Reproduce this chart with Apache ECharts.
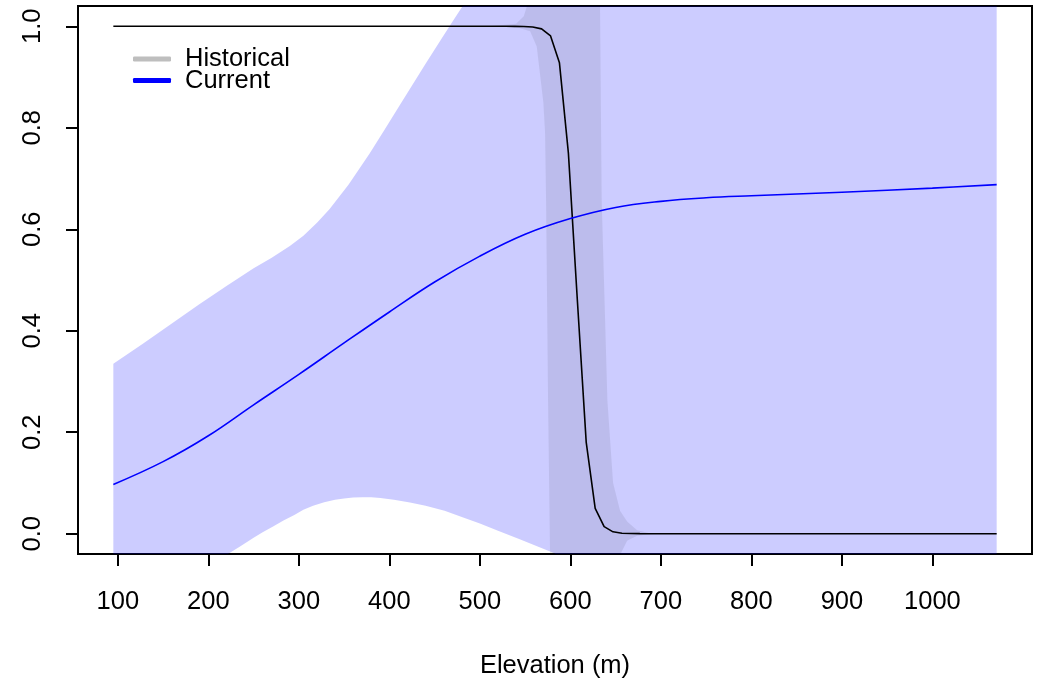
<!DOCTYPE html>
<html><head><meta charset="utf-8">
<script src="https://cdn.jsdelivr.net/npm/echarts@6/dist/echarts.min.js"></script>
<style>html,body{margin:0;padding:0;background:#fff}#c{width:1038px;height:684px}</style>
</head><body><div id="c"></div>
<script>
// ---- tick labels ----
const xTicks = [100, 200, 300, 400, 500, 600, 700, 800, 900, 1000];
const yTicks = [0, 0.2, 0.4, 0.6, 0.8, 1.0];

// ---- Historical (black mean line) ----
const histMeanX = [95, 528.8, 538.7, 548.5, 558.4, 568.2, 578.1, 587.9, 597.8, 607.7, 617.5, 627.4, 637.3, 647.1, 657.0, 666.8, 676.7, 1071];
const histMeanY = [1, 1, 0.9999, 0.9996, 0.9987, 0.9949, 0.981, 0.928, 0.75, 0.46, 0.18, 0.05, 0.014, 0.0037, 0.001, 0.0003, 0.0001, 0];

// ---- Historical band ----
const histUpperX = [510, 540, 548.5, 552, 556, 570, 600, 625, 632, 634.6, 640.9, 647.2, 654.9, 662.7, 673.8, 688, 700];
const histUpperY = [1.0, 1.005, 1.02, 1.04, 1.2, 2.0, 3.0, 2.0, 1.2, 0.658, 0.263, 0.1, 0.045, 0.024, 0.007, 0.001, 0];
const histLowerX = [510, 538.8, 555.5, 562.8, 570.1, 572.0, 573.1, 575.3, 577.5, 585, 620, 640.9, 647.2, 654.9, 662.7, 673.8, 688, 700];
const histLowerY = [1.0, 0.999, 0.99, 0.96, 0.85, 0.79, 0.659, 0.264, -0.04, -1.0, -1.0, -0.263, -0.1, -0.042, -0.014, -0.004, -0.001, 0];

// ---- Current (blue mean line) ----
const curX = [95, 150, 200, 250, 300, 350, 400, 450, 500, 550, 600, 650, 700, 750, 800, 900, 1000, 1071];
const curY = [0.097, 0.142, 0.193, 0.254, 0.314, 0.376, 0.437, 0.496, 0.547, 0.590, 0.621, 0.643, 0.655, 0.662, 0.666, 0.673, 0.681, 0.688];

// ---- Current band ----
const curUpperX = [95, 128, 160, 190, 220, 250, 270, 290, 305, 320, 334, 355, 378, 395, 411.6, 440, 456, 470, 481, 500, 520, 600, 800, 1071];
const curUpperY = [0.335, 0.375, 0.415, 0.452, 0.488, 0.523, 0.544, 0.567, 0.587, 0.613, 0.64, 0.688, 0.749, 0.797, 0.845, 0.926, 0.971, 1.01, 1.04, 1.09, 1.15, 1.4, 1.8, 2.2];
const curLowerX = [95, 146, 190, 221.6, 235, 250, 260, 271.5, 283, 295, 305, 315.7, 328, 340, 350, 360, 370, 380, 390, 405, 422.7, 440, 461, 480, 500, 520, 544, 583, 620, 700, 800, 1071];
const curLowerY = [-0.14, -0.1, -0.07, -0.04, -0.025, -0.008, 0.003, 0.014, 0.026, 0.037, 0.047, 0.055, 0.062, 0.067, 0.0695, 0.0712, 0.072, 0.0718, 0.0705, 0.067, 0.0615, 0.055, 0.045, 0.033, 0.020, 0.006, -0.011, -0.039, -0.15, -0.4, -0.6, -1.0];

const X_MIN = 55.96, X_MAX = 1110.04, Y_MIN = -0.04, Y_MAX = 1.04;
const FONT = "'Liberation Sans', Arial, Helvetica, sans-serif";

function zip(xs, ys) { return xs.map((x, i) => [x, ys[i]]); }

function bandSeries(name, ux, uy, lx, ly, fill, z) {
  return {
    type: 'custom', name: name, clip: true, silent: true, z: z,
    itemStyle: { color: fill },
    data: [0],
    renderItem: function (params, api) {
      const pts = [];
      for (let i = 0; i < ux.length; i++) pts.push(api.coord([ux[i], uy[i]]));
      for (let i = lx.length - 1; i >= 0; i--) pts.push(api.coord([lx[i], ly[i]]));
      return { type: 'polygon', shape: { points: pts }, style: { fill: fill } };
    }
  };
}

const chart = echarts.init(document.getElementById('c'), null, { renderer: 'canvas' });
chart.setOption({
  animation: false,
  backgroundColor: '#ffffff',
  textStyle: { fontFamily: FONT },
  grid: { left: 78, right: 6, top: 6, bottom: 130, show: true, borderColor: '#000', borderWidth: 2, backgroundColor: 'transparent' },
  legend: {
    orient: 'vertical', left: 128, top: 41, padding: 5, selectedMode: false,
    icon: 'roundRect', itemWidth: 38, itemHeight: 5, itemGap: -4.4,
    textStyle: { fontFamily: FONT, fontSize: 25.5, color: '#000', padding: [0, 0, 0, 9] },
    data: [
      { name: 'Historical', itemStyle: { color: '#BEBEBE', borderWidth: 0 } },
      { name: 'Current', itemStyle: { color: '#0000FF', borderWidth: 0 } }
    ]
  },
  xAxis: {
    type: 'value', min: X_MIN, max: X_MAX,
    name: 'Elevation (m)', nameLocation: 'middle', nameGap: 99,
    nameTextStyle: { fontFamily: FONT, fontSize: 25.5, color: '#000' },
    axisLine: { show: true, onZero: false, lineStyle: { color: '#000', width: 2 } },
    axisTick: { show: true, length: 12, lineStyle: { color: '#000', width: 2 }, customValues: xTicks },
    axisLabel: { show: true, margin: 35, fontFamily: FONT, fontSize: 25.5, color: '#000', customValues: xTicks, formatter: v => String(v) },
    splitLine: { show: false }
  },
  yAxis: {
    type: 'value', min: Y_MIN, max: Y_MAX,
    axisLine: { show: true, onZero: false, lineStyle: { color: '#000', width: 2 } },
    axisTick: { show: true, length: 12, lineStyle: { color: '#000', width: 2 }, customValues: yTicks },
    axisLabel: { show: true, rotate: 90, margin: 32, fontFamily: FONT, fontSize: 25.5, color: '#000', customValues: yTicks, formatter: v => Number(v).toFixed(1) },
    splitLine: { show: false }
  },
  series: [
    bandSeries('CurrentBand', curUpperX, curUpperY, curLowerX, curLowerY, 'rgba(0,0,255,0.2)', 1),
    bandSeries('Historical', histUpperX, histUpperY, histLowerX, histLowerY, 'rgba(0,0,0,0.075)', 2),
    {
      type: 'line', name: 'HistoricalMean', data: zip(histMeanX, histMeanY), showSymbol: false, z: 3,
      clip: true, silent: true, lineStyle: { color: '#000000', width: 1.6 }, itemStyle: { color: '#000' }
    },
    {
      type: 'line', name: 'Current', data: zip(curX, curY), showSymbol: false, smooth: 0.4, z: 4,
      clip: true, silent: true, lineStyle: { color: '#0000FF', width: 1.6 }, itemStyle: { color: '#0000FF' }
    }
  ]
});
</script></body></html>
